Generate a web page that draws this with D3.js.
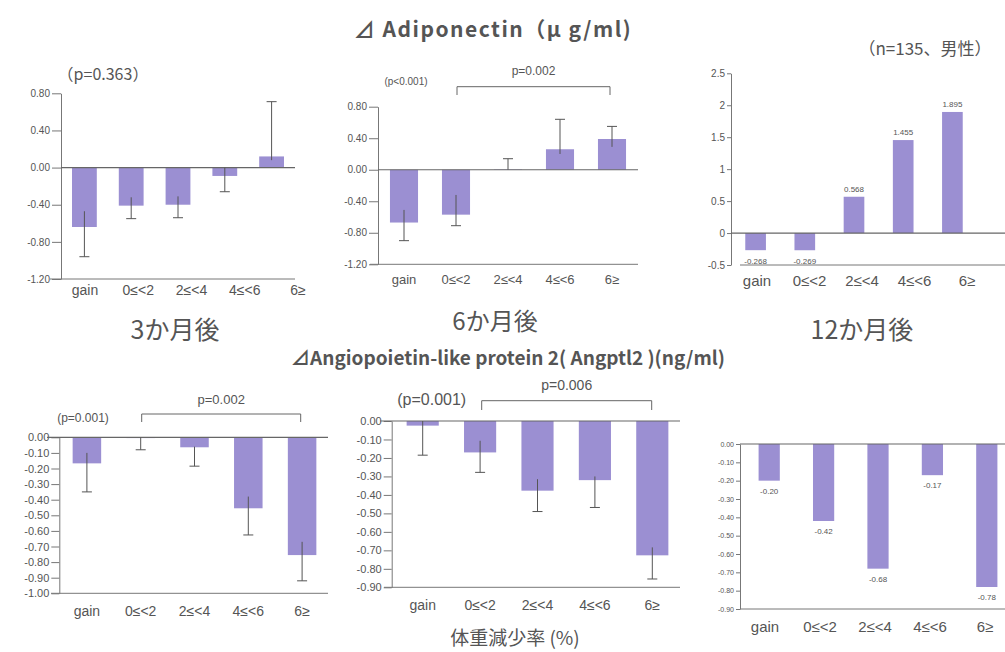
<!DOCTYPE html>
<html>
<head>
<meta charset="utf-8">
<script src="https://cdn.jsdelivr.net/npm/d3@7"></script>
<style>
  body { margin: 0; background: #fff; }
  svg { display: block; }
  text { fill: #555; font-family: "Liberation Sans", Arial, sans-serif; }
  .jp { font-family: "Noto Sans CJK JP", sans-serif; }
</style>
</head>
<body>
<svg id="chart" width="1005" height="652"></svg>
<script>
// weight-loss groups
const groups = ["gain", "0≤<2", "2≤<4", "4≤<6", "6≥"];

// Δ adiponectin, 3 months
const adipo3 = [-0.64, -0.41, -0.40, -0.09, 0.12];
const adipo3In = [-0.47, -0.32, -0.31, 0.00, 0.08];
const adipo3Out = [-0.96, -0.55, -0.54, -0.26, 0.71];
const adipo3Ticks = [0.8, 0.4, 0, -0.4, -0.8, -1.2];

// Δ adiponectin, 6 months
const adipo6 = [-0.67, -0.57, 0.005, 0.26, 0.39];
const adipo6In = [-0.51, -0.32, 0.00, 0.20, 0.29];
const adipo6Out = [-0.90, -0.71, 0.14, 0.64, 0.55];
const adipo6Ticks = [0.8, 0.4, 0, -0.4, -0.8, -1.2];

// Δ adiponectin, 12 months
const adipo12 = [-0.268, -0.269, 0.568, 1.455, 1.895];
const adipo12Ticks = [2.5, 2, 1.5, 1, 0.5, 0, -0.5];

// Δ Angptl2, 3 months
const angp3 = [-0.167, -0.005, -0.064, -0.455, -0.755];
const angp3In = [-0.10, 0.00, -0.06, -0.38, -0.67];
const angp3Out = [-0.35, -0.08, -0.185, -0.626, -0.92];
const angp3Ticks = [0, -0.1, -0.2, -0.3, -0.4, -0.5, -0.6, -0.7, -0.8, -0.9, -1.0];

// Δ Angptl2, 6 months
const angp6 = [-0.025, -0.17, -0.377, -0.32, -0.727];
const angp6In = [0.00, -0.107, -0.315, -0.30, -0.684];
const angp6Out = [-0.185, -0.278, -0.49, -0.468, -0.855];
const angp6Ticks = [0, -0.1, -0.2, -0.3, -0.4, -0.5, -0.6, -0.7, -0.8, -0.9];

// Δ Angptl2, 12 months
const angp12 = [-0.20, -0.42, -0.68, -0.17, -0.78];
const angp12Ticks = [0, -0.1, -0.2, -0.3, -0.4, -0.5, -0.6, -0.7, -0.8, -0.9];

const barColor = "#9b8fd2";
const lineColor = "#777";
const svg = d3.select("#chart");

const fmt2 = d => d3.format(".2f")(d).replace("−", "-");
const fmtPlain = d => String(d);

function drawPanel(cfg) {
    const g = svg.append("g");
    const y = d3.scaleLinear().domain(cfg.domain).range(cfg.yRange);
    const x = d3.scaleBand().domain(groups).range(cfg.band)
        .paddingInner(cfg.pad).paddingOuter(cfg.pad / 2);

    // y axis
    const axis = d3.axisLeft(y).tickValues(cfg.ticks).tickFormat(cfg.fmt)
        .tickSize(cfg.tickSize).tickSizeOuter(0).tickPadding(2);
    const ax = g.append("g").attr("transform", `translate(${cfg.axisX},0)`).call(axis);
    ax.select(".domain").attr("stroke", lineColor);
    ax.selectAll(".tick line").attr("stroke", lineColor);
    ax.selectAll(".tick text").attr("fill", "#666")
        .style("font-size", cfg.tickFont + "px")
        .style("font-family", "'Liberation Sans', Arial, sans-serif");

    // bars
    g.selectAll("rect.bar").data(cfg.values).join("rect")
        .attr("class", "bar")
        .attr("x", (d, i) => x(groups[i]))
        .attr("width", x.bandwidth())
        .attr("y", d => y(Math.max(0, d)))
        .attr("height", d => Math.abs(y(d) - y(0)))
        .attr("fill", barColor);

    // baseline and bottom line
    g.append("line").attr("x1", cfg.zeroLine[0]).attr("x2", cfg.zeroLine[1])
        .attr("y1", y(0)).attr("y2", y(0)).attr("stroke", "#666").attr("stroke-width", 1.2);
    g.append("line").attr("x1", cfg.bottomLine[0]).attr("x2", cfg.bottomLine[1])
        .attr("y1", y(cfg.domain[0])).attr("y2", y(cfg.domain[0]))
        .attr("stroke", lineColor);

    // whiskers (outer cap only)
    if (cfg.whiskIn) {
        const cx = i => x(groups[i]) + x.bandwidth() / 2;
        const wg = g.append("g").attr("stroke", "#555").attr("stroke-width", 1);
        wg.selectAll("line.w").data(cfg.whiskOut).join("line")
            .attr("x1", (d, i) => cx(i)).attr("x2", (d, i) => cx(i))
            .attr("y1", (d, i) => y(cfg.whiskIn[i])).attr("y2", d => y(d));
        wg.selectAll("line.cap").data(cfg.whiskOut).join("line")
            .attr("x1", (d, i) => cx(i) - 5).attr("x2", (d, i) => cx(i) + 5)
            .attr("y1", d => y(d)).attr("y2", d => y(d));
    }

    // value labels
    if (cfg.valueFmt) {
        g.selectAll("text.val").data(cfg.values).join("text")
            .attr("x", (d, i) => x(groups[i]) + x.bandwidth() / 2)
            .attr("y", d => d >= 0 ? y(d) - 5 : y(d) + cfg.valueGap)
            .attr("text-anchor", "middle")
            .style("font-size", "8px")
            .attr("fill", "#666")
            .text(cfg.valueFmt);
    }

    // category labels
    const lx = cfg.labelRange
        ? d3.scalePoint().domain(groups).range(cfg.labelRange)
        : (k => x(k) + x.bandwidth() / 2);
    g.selectAll("text.cat").data(groups).join("text")
        .attr("x", d => lx(d))
        .attr("y", cfg.labelY)
        .attr("text-anchor", "middle")
        .style("font-size", cfg.labelFont + "px")
        .text(d => d);
}

function bracket(x1, x2, yTop, yEnd, label, labelY, size) {
    svg.append("path")
        .attr("d", `M${x1},${yEnd}V${yTop}H${x2}V${yEnd}`)
        .attr("fill", "none").attr("stroke", "#666");
    svg.append("text").attr("x", (x1 + x2) / 2).attr("y", labelY)
        .attr("text-anchor", "middle").style("font-size", size + "px").text(label);
}

function note(x, yPos, str, size, cls) {
    svg.append("text").attr("class", cls || null).attr("x", x).attr("y", yPos)
        .attr("text-anchor", "middle").style("font-size", size + "px").text(str);
}

// ---- top row: adiponectin ----
drawPanel({
    values: adipo3, whiskIn: adipo3In, whiskOut: adipo3Out, ticks: adipo3Ticks, fmt: fmt2,
    domain: [-1.2, 0.8], yRange: [279, 93.3], axisX: 61, band: [61, 295], pad: 0.47,
    tickSize: 9, tickFont: 10, zeroLine: [61, 295], bottomLine: [50, 295],
    labelY: 295, labelFont: 14, labelRange: [85, 298]
});
drawPanel({
    values: adipo6, whiskIn: adipo6In, whiskOut: adipo6Out, ticks: adipo6Ticks, fmt: fmt2,
    domain: [-1.2, 0.8], yRange: [264.3, 106.7], axisX: 378, band: [378, 638], pad: 0.46,
    tickSize: 9, tickFont: 10, zeroLine: [378, 638], bottomLine: [370, 638],
    labelY: 284, labelFont: 13
});
drawPanel({
    values: adipo12, ticks: adipo12Ticks, fmt: fmtPlain,
    domain: [-0.5, 2.5], yRange: [265, 73.3], axisX: 731, band: [731, 977], pad: 0.58,
    tickSize: 4, tickFont: 10, zeroLine: [731, 1005], bottomLine: [740, 1005],
    labelY: 286, labelFont: 15, labelRange: [757, 967],
    valueFmt: d => d3.format(".3f")(d).replace("−", "-"), valueGap: 14
});

// ---- bottom row: Angptl2 ----
drawPanel({
    values: angp3, whiskIn: angp3In, whiskOut: angp3Out, ticks: angp3Ticks, fmt: fmt2,
    domain: [-1.0, 0], yRange: [593.3, 437.3], axisX: 59.3, band: [60, 329], pad: 0.47,
    tickSize: 8, tickFont: 11, zeroLine: [47, 328], bottomLine: [51, 328],
    labelY: 616, labelFont: 14
});
drawPanel({
    values: angp6, whiskIn: angp6In, whiskOut: angp6Out, ticks: angp6Ticks, fmt: fmt2,
    domain: [-0.9, 0], yRange: [587.3, 421], axisX: 391.7, band: [394, 681], pad: 0.44,
    tickSize: 8, tickFont: 11, zeroLine: [380, 680], bottomLine: [384, 680],
    labelY: 610, labelFont: 14
});
drawPanel({
    values: angp12, ticks: angp12Ticks, fmt: fmt2,
    domain: [-0.9, 0], yRange: [609, 444], axisX: 740, band: [742, 1014], pad: 0.61,
    tickSize: 4, tickFont: 7, zeroLine: [740, 1005], bottomLine: [740, 1005],
    labelY: 632, labelFont: 15, labelRange: [765, 985],
    valueFmt: fmt2, valueGap: 13
});

// ---- titles, p values ----
svg.append("text").attr("class", "jp").attr("x", 493).attr("y", 37)
    .attr("text-anchor", "middle").style("font-size", "21px").style("font-weight", "bold")
    .style("letter-spacing", "1.5px")
    .attr("fill", "#555").text("⊿ Adiponectin（μ g/ml)");
svg.append("text").attr("class", "jp").attr("x", 508).attr("y", 365)
    .attr("text-anchor", "middle").style("font-size", "19px").style("font-weight", "bold")
    .attr("fill", "#555").text("⊿Angiopoietin-like protein 2( Angptl2 )(ng/ml)");

note(925, 55, "（n=135、男性）", 17, "jp");
note(175, 339, "3か月後", 25, "jp");
note(495, 330, "6か月後", 24, "jp");
note(862, 339, "12か月後", 25, "jp");
note(515, 645, "体重減少率 (%)", 19, "jp");

note(103, 80, "（p=0.363）", 16, "jp");
note(406, 85, "(p<0.001)", 10);
bracket(457, 610, 86.7, 95, "p=0.002", 75, 12);

note(83, 422, "(p=0.001)", 12);
bracket(141.7, 300.7, 414, 422, "p=0.002", 404, 13);
note(431.7, 405, "(p=0.001)", 16);
bracket(481.7, 651.7, 400.7, 410, "p=0.006", 390, 14);
</script>
</body>
</html>
